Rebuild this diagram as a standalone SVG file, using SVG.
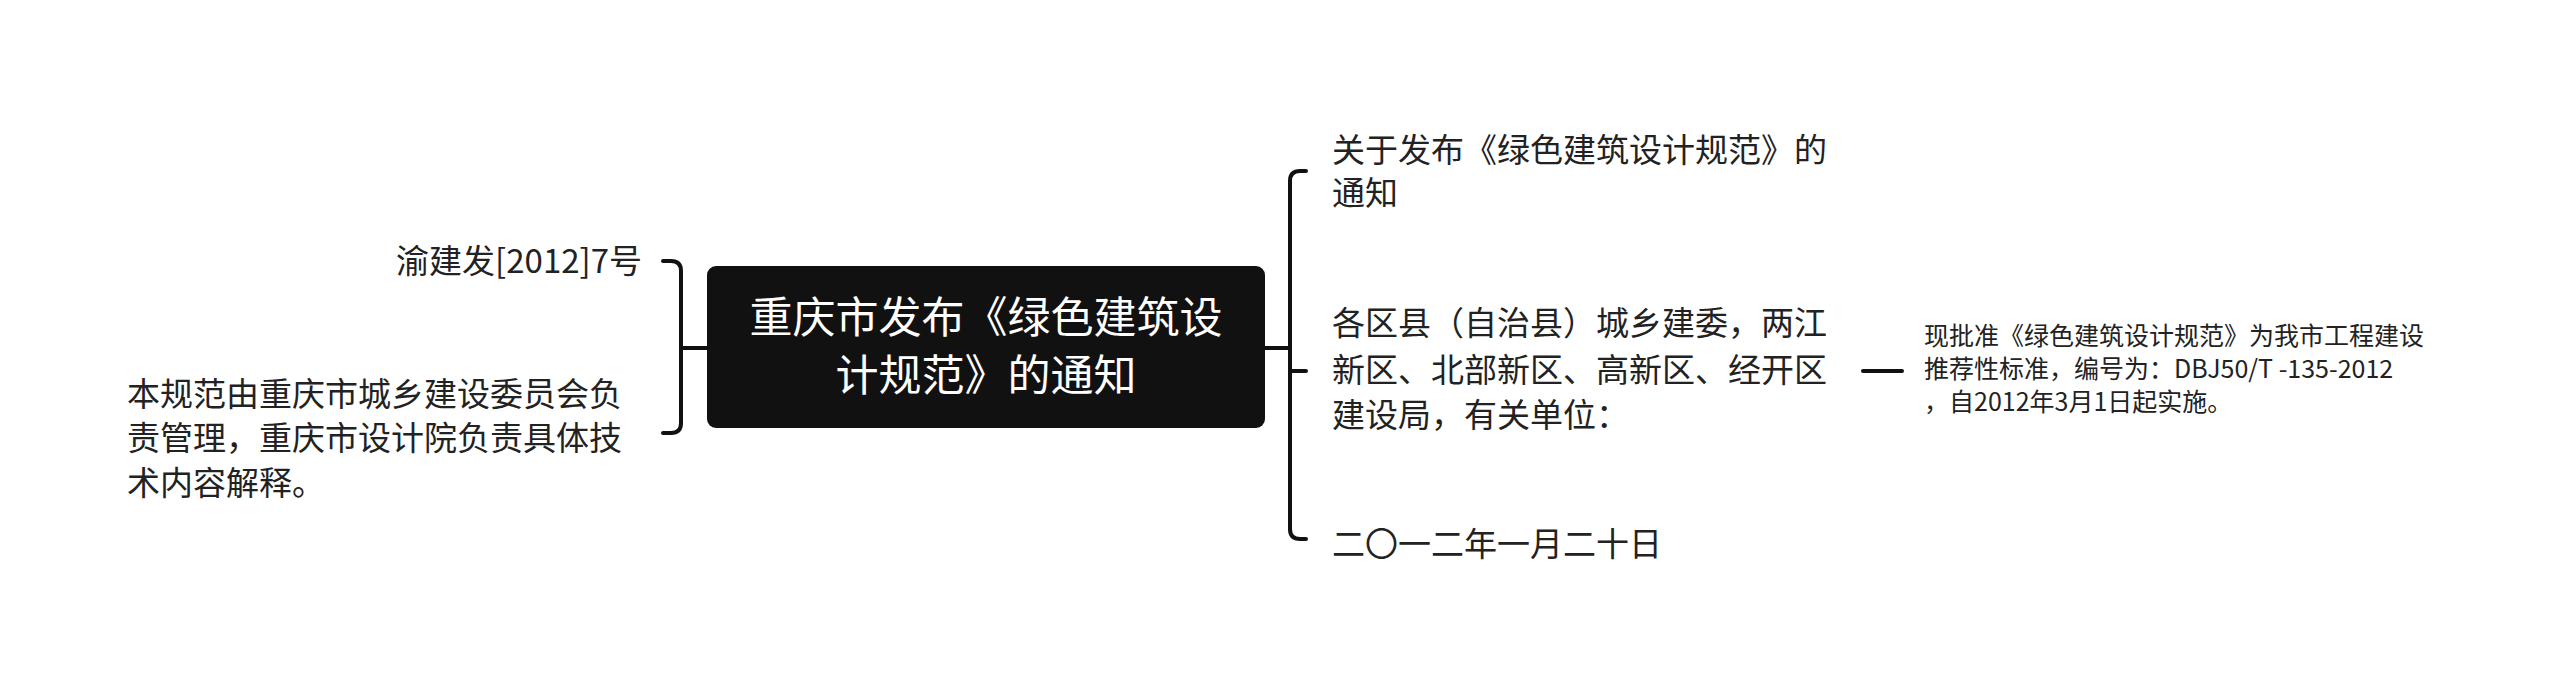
<svg xmlns="http://www.w3.org/2000/svg" width="2560" height="695" viewBox="0 0 2560 695">
<style>
text{font-family:"Noto Sans CJK SC","Noto Sans",sans-serif;fill:#222}
.l{font-size:33px}
.s{font-size:25px}
.c{font-size:43px;fill:#fff}
.e{fill:none;stroke:#111;stroke-width:4;stroke-linecap:round}
</style>
<rect width="2560" height="695" fill="#fff"/>
<g id="connectors">
<path class="e" d="M707 348H681M663 261H671Q681 261 681 271V423Q681 433 671 433H663"/>
<path class="e" d="M1265 348H1290M1306 171H1300Q1290 171 1290 181V529Q1290 539 1300 539H1306M1290 371Q1290 371 1306 371"/>
<path class="e" d="M1863 371H1902"/>
</g>
<g id="center">
<rect x="707" y="266" width="558" height="162" rx="9" fill="#111"/>
<text class="c" x="986" y="333" text-anchor="middle">重庆市发布《绿色建筑设</text>
<text class="c" x="986" y="391" text-anchor="middle">计规范》的通知</text>
</g>
<g id="left1"><text class="l" x="642" y="273" text-anchor="end">渝建发[2012]7号</text></g>
<g id="left2">
<text class="l" x="127" y="406">本规范由重庆市城乡建设委员会负</text>
<text class="l" x="127" y="450">责管理，重庆市设计院负责具体技</text>
<text class="l" x="127" y="495">术内容解释。</text>
</g>
<g id="right1">
<text class="l" x="1332" y="162">关于发布《绿色建筑设计规范》的</text>
<text class="l" x="1332" y="205">通知</text>
</g>
<g id="right2">
<text class="l" x="1332" y="335">各区县（自治县）城乡建委，两江</text>
<text class="l" x="1332" y="382">新区、北部新区、高新区、经开区</text>
<text class="l" x="1332" y="427">建设局，有关单位：</text>
</g>
<g id="right3"><text class="l" x="1332" y="556">二〇一二年一月二十日</text></g>
<g id="detail">
<text class="s" x="1924" y="345">现批准《绿色建筑设计规范》为我市工程建设</text>
<text class="s" x="1924" y="378">推荐性标准，编号为：DBJ50/T -135-2012</text>
<text class="s" x="1924" y="411">，自2012年3月1日起实施。</text>
</g>
</svg>
